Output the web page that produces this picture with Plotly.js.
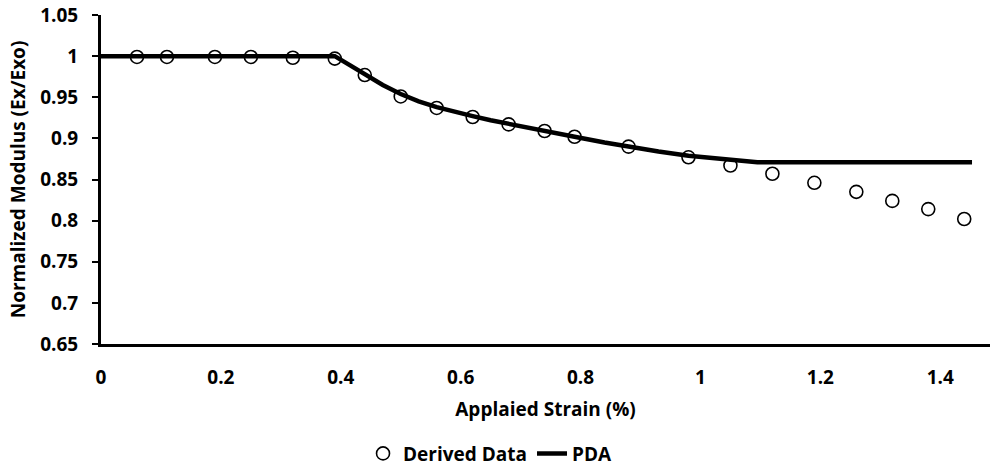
<!DOCTYPE html>
<html>
<head>
<meta charset="utf-8">
<script src="https://cdn.plot.ly/plotly-3.0.1.min.js"></script>
<style>html,body{margin:0;padding:0;background:#fff;}#chart{width:990px;height:468px;}</style>
</head>
<body>
<div id="chart"></div>
<script>
// Derived Data (open circles)
const derivedStrain = [0.06, 0.11, 0.19, 0.25, 0.32, 0.39, 0.44, 0.50, 0.56, 0.62, 0.68, 0.74, 0.79, 0.88, 0.98, 1.05, 1.12, 1.19, 1.26, 1.32, 1.38, 1.44];
const derivedModulus = [0.999, 0.999, 0.999, 0.999, 0.998, 0.997, 0.977, 0.951, 0.937, 0.926, 0.917, 0.909, 0.902, 0.890, 0.877, 0.867, 0.857, 0.846, 0.835, 0.824, 0.814, 0.802];
// PDA (solid line)
const pdaStrain = [0, 0.39, 0.415, 0.44, 0.47, 0.50, 0.53, 0.56, 0.59, 0.62, 0.65, 0.68, 0.71, 0.74, 0.79, 0.84, 0.88, 0.93, 0.98, 1.05, 1.095, 1.453];
const pdaModulus = [1.0, 1.0, 0.989, 0.978, 0.965, 0.954, 0.945, 0.938, 0.932, 0.927, 0.922, 0.918, 0.913, 0.909, 0.902, 0.895, 0.890, 0.884, 0.879, 0.874, 0.871, 0.871];

const xTicks = [0, 0.2, 0.4, 0.6, 0.8, 1, 1.2, 1.4];
const yTicks = [0.65, 0.7, 0.75, 0.8, 0.85, 0.9, 0.95, 1, 1.05];

const FONT = "Open Sans, Lato, sans-serif";
const tf = {family: FONT, size: 19, color: "#000", weight: 700};

const traces = [
  {
    x: derivedStrain, y: derivedModulus, name: "Derived Data",
    type: "scatter", mode: "markers",
    marker: {symbol: "circle-open", size: 13, color: "#000", line: {width: 1.6, color: "#000"}}
  },
  {
    x: pdaStrain, y: pdaModulus, name: "PDA",
    type: "scatter", mode: "lines",
    line: {color: "#000", width: 4.5, shape: "linear"}
  }
];

const layout = {
  width: 990, height: 468,
  margin: {l: 101, r: 0, t: 15, b: 124, autoexpand: false},
  paper_bgcolor: "#fff", plot_bgcolor: "#fff",
  font: tf,
  showlegend: true,
  legend: {
    orientation: "h", x: 0.4376, xanchor: "center", y: -0.333, yanchor: "middle",
    font: tf, itemwidth: 30, tracegroupgap: 0
  },
  xaxis: {
    range: [0, 1.483], automargin: false,
    tickvals: xTicks, ticktext: xTicks.map(String),
    showgrid: false, zeroline: false,
    showline: true, linecolor: "#000", linewidth: 3,
    ticks: "",
    tickfont: tf,
    ticklabelstandoff: 14,
    title: {text: "Applaied Strain (%)", font: tf, standoff: 14}
  },
  yaxis: {
    range: [0.65, 1.05], automargin: false,
    tickvals: yTicks, ticktext: yTicks.map(String),
    showgrid: false, zeroline: false,
    showline: true, linecolor: "#000", linewidth: 3,
    ticks: "outside", ticklen: 6, tickwidth: 2, tickcolor: "#000",
    tickfont: tf,
    ticklabelstandoff: 10,
    title: {text: "Normalized Modulus (Ex/Exo)", font: tf, standoff: 10}
  }
};

Plotly.newPlot("chart", traces, layout, {displayModeBar: false, staticPlot: true});
</script>
</body>
</html>
